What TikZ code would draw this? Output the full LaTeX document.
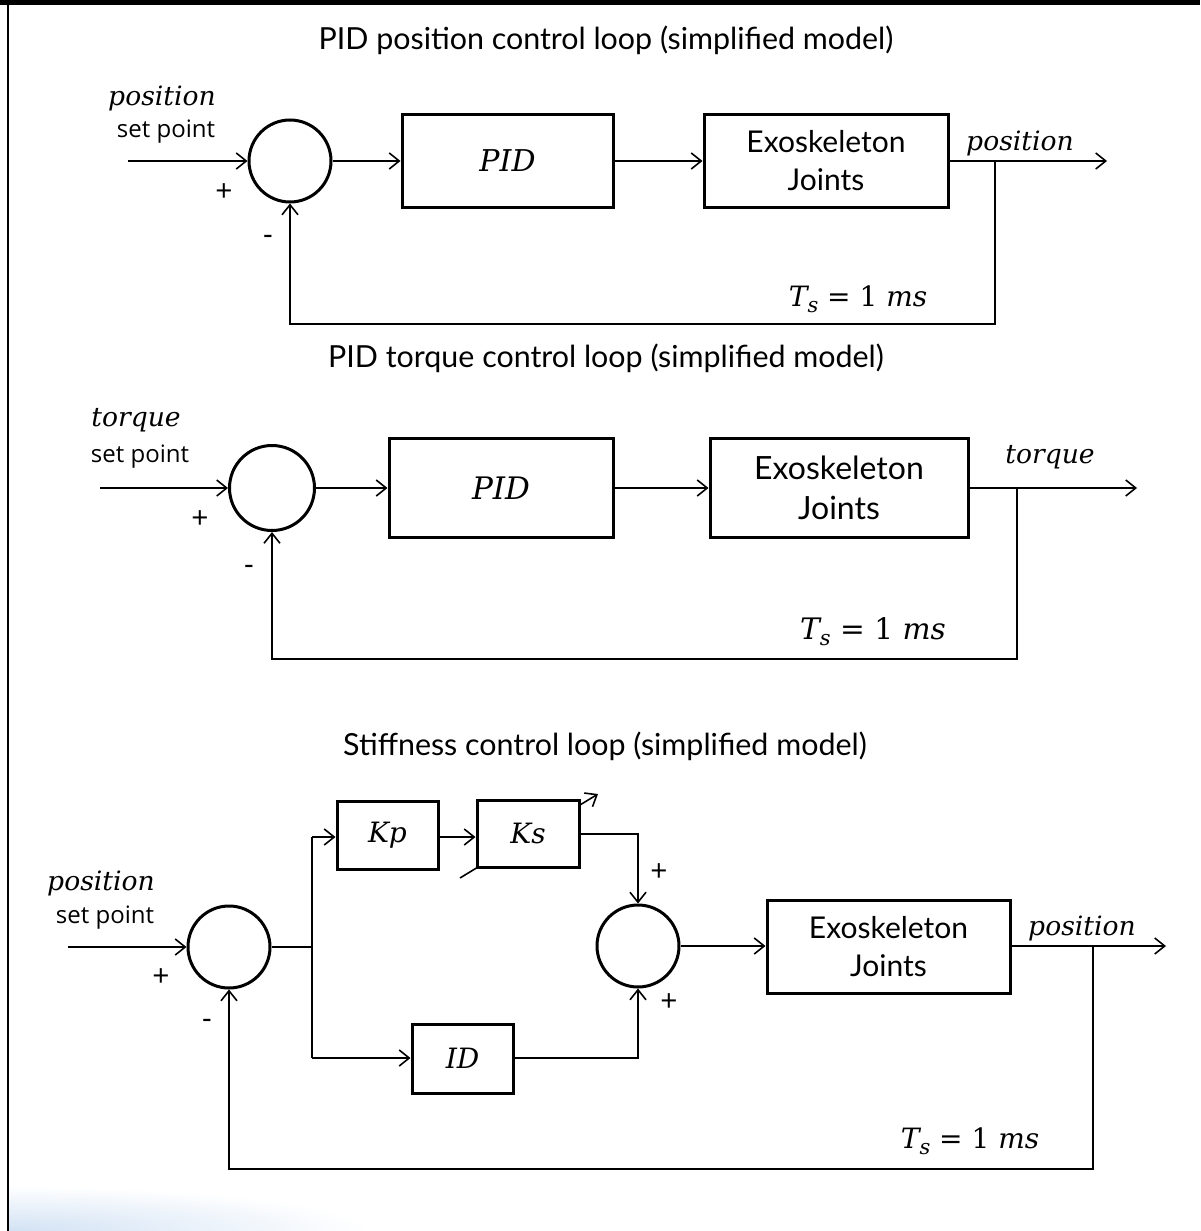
\documentclass[tikz,border=0pt]{standalone}
\usepackage[no-math]{fontspec}
\setmainfont{Open Sans}
\newfontfamily\titlefont{Lato}
\newfontfamily\mifam{DejaVu Serif}
\usetikzlibrary{arrows.meta}
\definecolor{edgeblue}{RGB}{210,226,244}
\newcommand{\tsone}{T\raisebox{-0.4ex}{\fontsize{10.5}{11}\selectfont s}\ {\upshape =\ 1}\ ms}
\begin{document}
\begin{tikzpicture}[x=0.5pt,y=-0.5pt,
  conn/.style={line width=0.8pt, -{Straight Barb[length=5pt,width=8pt]}},
  ln/.style={line width=0.8pt},
  blk/.style={draw, line width=1.5pt, fill=white, rectangle, inner sep=0pt},
  sumc/.style={draw, circle, line width=1.5pt, minimum size=41pt, inner sep=0pt, fill=white},
  ttl/.style={font=\titlefont\fontsize{15.2}{17}\selectfont},
  lbl/.style={font=\fontsize{12}{19}\selectfont, align=center},
  exl/.style={font=\titlefont\fontsize{15}{19}\selectfont, align=center},
  mth/.style={font=\mifam\itshape\fontsize{13.3}{15}\selectfont},
  big/.style={font=\mifam\itshape\fontsize{15}{17}\selectfont},
  tsl/.style={font=\mifam\itshape\fontsize{14}{16}\selectfont},
  sgn/.style={font=\fontsize{15}{16}\selectfont},
]
\useasboundingbox (0,0) rectangle (1200,1231);
% frame decoration
\begin{scope}
  \clip (9,1180) rectangle (420,1231);
  \shade[inner color=edgeblue, outer color=white] (9,1231) ellipse (360 and 45);
\end{scope}
\fill[black] (0,0) rectangle (1200,5);
\fill[black] (6.5,0) rectangle (9,1231);

% ---------------- Diagram 1 ----------------
\node[ttl] (t1) at (606,40) {PID position control loop (simplified model)};
\node[sumc] (s1) at (290,161) {};
\node[blk, minimum width=105.5pt, minimum height=46.5pt, big] (pid1) at (507.5,161) {PID};
\node[blk, minimum width=122pt, minimum height=46.5pt, exl] (exo1) at (826,161) {Exoskeleton\\Joints};
\coordinate (in1) at (128,161);
\coordinate (out1) at (1107,161);
\coordinate (br1) at (995,161);
\coordinate (fb1) at (995,324);
\draw[conn] (in1) -- (s1);
\draw[conn] (s1) -- (pid1);
\draw[conn] (pid1) -- (exo1);
\draw[conn] (exo1) -- (out1);
\draw[conn] (br1) -- (fb1) -| (s1.south);
\node[mth] (p1) at (162,98) {position};
\node[lbl] (sp1) at (166,132) {set point};
\node[sgn] (pl1) at (224,193) {+};
\node[sgn] (mi1) at (268,240) {-};
\node[mth] (po1) at (1020,143) {position};
\node[tsl] (ts1) at (858,299) {\tsone};

% ---------------- Diagram 2 ----------------
\node[ttl] (t2) at (606,358) {PID torque control loop (simplified model)};
\node[sumc, minimum size=42.5pt] (s2) at (272,488) {};
\node[blk, minimum width=112pt, minimum height=49.5pt, big, font=\mifam\itshape\fontsize{15.5}{17}\selectfont] (pid2) at (501,488) {PID};
\node[blk, minimum width=129pt, minimum height=49.5pt, exl, font=\titlefont\fontsize{16}{20}\selectfont] (exo2) at (839,488) {Exoskeleton\\Joints};
\coordinate (in2) at (100,488);
\coordinate (out2) at (1137,488);
\coordinate (br2) at (1017,488);
\coordinate (fb2) at (1017,659);
\draw[conn] (in2) -- (s2);
\draw[conn] (s2) -- (pid2);
\draw[conn] (pid2) -- (exo2);
\draw[conn] (exo2) -- (out2);
\draw[conn] (br2) -- (fb2) -| (s2.south);
\node[mth] (p2) at (136,420) {torque};
\node[lbl] (sp2) at (140,457) {set point};
\node[sgn] (pl2) at (200,520) {+};
\node[sgn] (mi2) at (249,570) {-};
\node[mth] (po2) at (1050,457) {torque};
\node[tsl, font=\mifam\itshape\fontsize{14.8}{17}\selectfont] (ts2) at (873,632) {\tsone};

% ---------------- Diagram 3 ----------------
\node[ttl] (t3) at (605,746) {Stiffness control loop (simplified model)};
\node[sumc] (s3) at (229,947) {};
\node[sumc] (s4) at (638,946) {};
\coordinate (vk1) at (460,878);
\coordinate (vk2) at (598,794);
\draw[conn] (vk1) -- (vk2);
\node[blk, minimum width=50.5pt, minimum height=34pt, mth, font=\mifam\itshape\fontsize{14}{15}\selectfont] (kp) at (387.5,835) {Kp};
\node[blk, minimum width=51pt, minimum height=33.5pt, mth, font=\mifam\itshape\fontsize{14}{15}\selectfont] (ks) at (528,833.5) {Ks};
\node[blk, minimum width=50.5pt, minimum height=34.5pt, mth, font=\mifam\itshape\fontsize{14}{15}\selectfont] (id) at (462.5,1058.5) {ID};
\node[blk, minimum width=121.5pt, minimum height=46.5pt, exl] (exo3) at (888.5,946.5) {Exoskeleton\\Joints};
\coordinate (in3) at (68,947);
\coordinate (jn) at (312,947);
\coordinate (jt) at (312,837);
\coordinate (jb) at (312,1058);
\coordinate (kr) at (638,834);
\coordinate (ir) at (638,1058);
\coordinate (out3) at (1166,946);
\coordinate (br3) at (1093,946);
\coordinate (fb3) at (1093,1169);
\draw[conn] (in3) -- (s3);
\draw[ln] (s3.east) -- (jn);
\draw[ln] (jb) -- (jt);
\draw[conn] (jt) -- (kp.west |- jt);
\draw[conn] (jb) -- (id.west |- jb);
\draw[conn] (kp.east |- jt) -- (ks.west |- jt);
\draw[conn] (ks.east |- kr) -- (kr) -- (s4.north);
\draw[conn] (id.east |- ir) -- (ir) -- (s4.south);
\draw[conn] (s4) -- (exo3.west |- s4);
\draw[conn] (exo3.east |- s4) -- (out3);
\draw[conn] (br3) -- (fb3) -| (s3.south);
\node[mth] (p3) at (101,883) {position};
\node[lbl] (sp3) at (105,918) {set point};
\node[sgn] (pl3) at (161,978) {+};
\node[sgn] (mi3) at (207,1024) {-};
\node[sgn] (pl4) at (659,873) {+};
\node[sgn] (pl5) at (669,1003) {+};
\node[mth] (po3) at (1082,928) {position};
\node[tsl] (ts3) at (970,1141) {\tsone};
\end{tikzpicture}
\end{document}
